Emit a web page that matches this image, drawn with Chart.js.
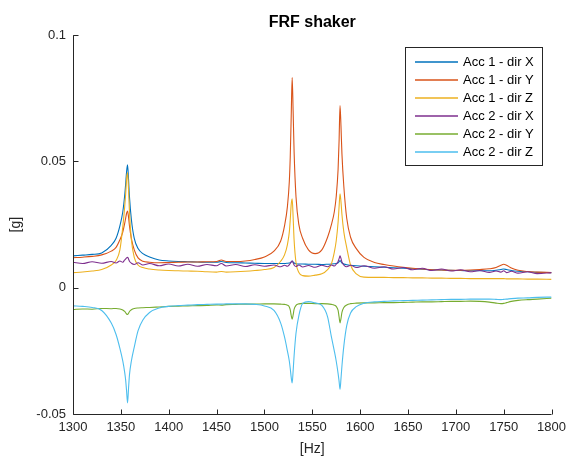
<!DOCTYPE html>
<html>
<head>
<meta charset="utf-8">
<title>FRF shaker</title>
<script src="https://cdn.jsdelivr.net/npm/chart.js@4.4.1/dist/chart.umd.min.js"></script>
<style>
  body { margin: 0; background: #fff; }
  #wrap { width: 572px; height: 462px; }
</style>
</head>
<body>
<div id="wrap"><canvas id="frfChart" width="572" height="462"></canvas></div>
<script>
// Frequency points [Hz] (denser around the resonances)
const freq = [
  1300, 1310, 1320, 1330, 1340,
  1345, 1349, 1352, 1354, 1355, 1356, 1357, 1358, 1359, 1361, 1364, 1368, 1373, 1380,
  1390, 1400, 1410, 1420, 1430, 1440, 1450, 1455, 1460, 1470, 1480, 1490, 1500, 1510,
  1517, 1521, 1524, 1526, 1527, 1528, 1529, 1530, 1531, 1533, 1536, 1540, 1546, 1553,
  1560, 1566, 1570, 1573, 1575, 1577, 1578, 1579, 1580, 1581, 1583, 1586, 1590, 1596, 1604,
  1615, 1625, 1635, 1645, 1655, 1665, 1675, 1685, 1695, 1705, 1715, 1725, 1735,
  1742, 1747, 1750, 1753, 1758, 1765, 1775, 1785, 1800
];

// Acc 1 - dir X [g]
const acc1X = [
  0.0126, 0.0129, 0.0132, 0.0138, 0.0168,
  0.0196, 0.0245, 0.0300, 0.0365, 0.0410, 0.0460, 0.0487, 0.0430, 0.0360, 0.0270, 0.0195, 0.0155, 0.0135, 0.0122,
  0.0110, 0.0106, 0.0104, 0.0103, 0.0102, 0.0101, 0.0101, 0.0104, 0.0100, 0.0099, 0.0098, 0.0097, 0.0096, 0.0096,
  0.0096, 0.0096, 0.0097, 0.0098, 0.0099, 0.0102, 0.0106, 0.0102, 0.0098, 0.0095, 0.0094, 0.0094, 0.0093, 0.0093,
  0.0092, 0.0093, 0.0094, 0.0095, 0.0096, 0.0099, 0.0103, 0.0108, 0.0103, 0.0098, 0.0094, 0.0091, 0.0089, 0.0087, 0.0085,
  0.0083, 0.0081, 0.0079, 0.0077, 0.0075, 0.0073, 0.0071, 0.0070, 0.0069, 0.0068, 0.0067, 0.0067, 0.0067,
  0.0069, 0.0072, 0.0074, 0.0072, 0.0068, 0.0065, 0.0063, 0.0061, 0.0060
];

// Acc 1 - dir Y [g]
const acc1Y = [
  0.0119, 0.0121, 0.0124, 0.0130, 0.0145,
  0.0160, 0.0190, 0.0220, 0.0255, 0.0275, 0.0295, 0.0304, 0.0280, 0.0245, 0.0195, 0.0150, 0.0118, 0.0105, 0.0101,
  0.0099, 0.0100, 0.0101, 0.0102, 0.0102, 0.0103, 0.0104, 0.0110, 0.0104, 0.0104, 0.0106, 0.0112, 0.0122, 0.0145,
  0.0185, 0.0245, 0.0320, 0.0420, 0.0520, 0.0680, 0.0832, 0.0700, 0.0540, 0.0360, 0.0250, 0.0195, 0.0150, 0.0135,
  0.0150, 0.0200, 0.0250, 0.0300, 0.0360, 0.0470, 0.0580, 0.0721, 0.0640, 0.0530, 0.0400, 0.0275, 0.0200, 0.0155, 0.0120,
  0.0100, 0.0092, 0.0086, 0.0081, 0.0077, 0.0074, 0.0071, 0.0070, 0.0069, 0.0069, 0.0070, 0.0072, 0.0075,
  0.0080, 0.0089, 0.0093, 0.0089, 0.0078, 0.0069, 0.0064, 0.0062, 0.0060
];

// Acc 1 - dir Z [g]
const acc1Z = [
  0.0060, 0.0062, 0.0066, 0.0072, 0.0090,
  0.0108, 0.0150, 0.0240, 0.0320, 0.0370, 0.0430, 0.0456, 0.0390, 0.0300, 0.0190, 0.0120, 0.0090, 0.0080, 0.0074,
  0.0070, 0.0068, 0.0067, 0.0066, 0.0065, 0.0063, 0.0062, 0.0064, 0.0062, 0.0063, 0.0065, 0.0068, 0.0072, 0.0080,
  0.0105, 0.0130, 0.0170, 0.0220, 0.0270, 0.0330, 0.0352, 0.0280, 0.0190, 0.0100, 0.0060, 0.0048, 0.0046, 0.0050,
  0.0055, 0.0072, 0.0095, 0.0140, 0.0185, 0.0260, 0.0320, 0.0372, 0.0340, 0.0290, 0.0220, 0.0159, 0.0090, 0.0055, 0.0042,
  0.0041, 0.0041, 0.0040, 0.0040, 0.0039, 0.0039, 0.0038, 0.0038, 0.0037, 0.0037, 0.0036, 0.0036, 0.0036,
  0.0036, 0.0036, 0.0036, 0.0035, 0.0035, 0.0035, 0.0034, 0.0034, 0.0033
];

// Acc 2 - dir X [g]
const acc2X = [
  0.0101, 0.0096, 0.0103, 0.0097, 0.0104,
  0.0098, 0.0106, 0.0101, 0.0110, 0.0114, 0.0118, 0.0121, 0.0114, 0.0105, 0.0097, 0.0092, 0.0099, 0.0090, 0.0096,
  0.0087, 0.0094, 0.0086, 0.0093, 0.0085, 0.0092, 0.0087, 0.0096, 0.0086, 0.0092, 0.0084, 0.0091, 0.0085, 0.0090,
  0.0083, 0.0089, 0.0085, 0.0091, 0.0096, 0.0102, 0.0106, 0.0099, 0.0090, 0.0084, 0.0090, 0.0082, 0.0088, 0.0081,
  0.0089, 0.0083, 0.0090, 0.0086, 0.0093, 0.0104, 0.0115, 0.0126, 0.0116, 0.0102, 0.0090, 0.0083, 0.0089, 0.0080, 0.0087,
  0.0077, 0.0083, 0.0074, 0.0080, 0.0071, 0.0077, 0.0068, 0.0074, 0.0066, 0.0071, 0.0063, 0.0068, 0.0061,
  0.0066, 0.0062, 0.0067, 0.0060, 0.0065, 0.0058, 0.0063, 0.0056, 0.0060
];

// Acc 2 - dir Y [g]
const acc2Y = [
  -0.0086, -0.0084, -0.0085, -0.0082, -0.0083,
  -0.0082, -0.0084, -0.0088, -0.0094, -0.0099, -0.0104, -0.0106, -0.0101, -0.0094, -0.0087, -0.0082, -0.0080, -0.0079, -0.0078,
  -0.0076, -0.0074, -0.0073, -0.0072, -0.0071, -0.0070, -0.0068, -0.0069, -0.0067, -0.0066, -0.0065, -0.0065, -0.0064, -0.0064,
  -0.0065, -0.0066, -0.0069, -0.0076, -0.0088, -0.0110, -0.0125, -0.0108, -0.0086, -0.0070, -0.0064, -0.0062, -0.0062, -0.0063,
  -0.0063, -0.0064, -0.0066, -0.0069, -0.0074, -0.0090, -0.0115, -0.0139, -0.0122, -0.0098, -0.0078, -0.0068, -0.0063, -0.0061, -0.0060,
  -0.0060, -0.0059, -0.0059, -0.0058, -0.0057, -0.0056, -0.0056, -0.0055, -0.0054, -0.0054, -0.0053, -0.0054, -0.0057,
  -0.0061, -0.0063, -0.0062, -0.0059, -0.0054, -0.0050, -0.0047, -0.0045, -0.0041
];

// Acc 2 - dir Z [g]
const acc2Z = [
  -0.0072, -0.0074, -0.0078, -0.0090, -0.0140,
  -0.0185, -0.0240, -0.0290, -0.0335, -0.0365, -0.0410, -0.0456, -0.0400, -0.0345, -0.0290, -0.0235, -0.0170, -0.0128, -0.0098,
  -0.0080, -0.0074, -0.0071, -0.0069, -0.0067, -0.0066, -0.0065, -0.0065, -0.0064, -0.0064, -0.0064, -0.0066, -0.0072, -0.0090,
  -0.0140, -0.0195, -0.0250, -0.0290, -0.0320, -0.0355, -0.0377, -0.0330, -0.0270, -0.0180, -0.0110, -0.0062, -0.0055, -0.0060,
  -0.0070, -0.0115, -0.0195, -0.0250, -0.0290, -0.0340, -0.0370, -0.0402, -0.0360, -0.0310, -0.0230, -0.0150, -0.0100, -0.0075, -0.0062,
  -0.0056, -0.0054, -0.0052, -0.0051, -0.0050, -0.0049, -0.0048, -0.0047, -0.0046, -0.0046, -0.0045, -0.0045, -0.0045,
  -0.0046, -0.0047, -0.0046, -0.0045, -0.0043, -0.0041, -0.0040, -0.0038, -0.0037
];

const seriesNames = ["Acc 1 - dir X", "Acc 1 - dir Y", "Acc 1 - dir Z", "Acc 2 - dir X", "Acc 2 - dir Y", "Acc 2 - dir Z"];
const seriesColors = ["#0072BD", "#D95319", "#EDB120", "#7E2F8E", "#77AC30", "#4DBEEE"];
const seriesValues = [acc1X, acc1Y, acc1Z, acc2X, acc2Y, acc2Z];

// Axis ticks
const xTicks = [1300, 1350, 1400, 1450, 1500, 1550, 1600, 1650, 1700, 1750, 1800];
const yTicks = [-0.05, 0, 0.05, 0.1];
const yTickLabels = ["-0.05", "0", "0.05", "0.1"];

const FONT = "'Liberation Sans', Arial, Helvetica, sans-serif";
const AXIS_COLOR = "#262626";

// MATLAB-like axes: left + bottom lines with inward ticks
const matlabAxes = {
  id: "matlabAxes",
  afterDatasetsDraw(chart) {
    const { ctx, chartArea: area, scales } = chart;
    ctx.save();
    ctx.strokeStyle = AXIS_COLOR;
    ctx.lineWidth = 1;
    ctx.beginPath();
    const l = Math.round(area.left) + 0.5;
    const b = Math.round(area.bottom) + 0.5;
    ctx.moveTo(l, area.top);
    ctx.lineTo(l, b);
    ctx.lineTo(area.right, b);
    scales.x.ticks.forEach((t) => {
      const px = Math.round(scales.x.getPixelForValue(t.value)) + 0.5;
      ctx.moveTo(px, b);
      ctx.lineTo(px, b - 5);
    });
    scales.y.ticks.forEach((t) => {
      const py = Math.round(scales.y.getPixelForValue(t.value)) + 0.5;
      ctx.moveTo(l, py);
      ctx.lineTo(l + 5, py);
    });
    ctx.stroke();
    ctx.restore();
  },
};

// Boxed legend in the upper right corner
const boxLegend = {
  id: "boxLegend",
  afterDraw(chart) {
    const { ctx } = chart;
    const left = 405, top = 47, width = 137, rowH = 18;
    const height = rowH * seriesNames.length + 10;
    ctx.save();
    ctx.fillStyle = "#fff";
    ctx.fillRect(left, top, width, height);
    ctx.strokeStyle = AXIS_COLOR;
    ctx.lineWidth = 1;
    ctx.strokeRect(left + 0.5, top + 0.5, width, height);
    ctx.font = "13px " + FONT;
    ctx.textBaseline = "middle";
    seriesNames.forEach((name, i) => {
      const y = Math.round(top + 15 + i * rowH);
      ctx.beginPath();
      ctx.strokeStyle = seriesColors[i];
      ctx.lineWidth = 1.5;
      ctx.moveTo(left + 10, y);
      ctx.lineTo(left + 53, y);
      ctx.stroke();
      ctx.fillStyle = "#000";
      ctx.fillText(name, left + 58, y + 0.5);
    });
    ctx.restore();
  },
};

const datasets = seriesNames.map((name, i) => ({
  label: name,
  data: freq.map((f, k) => ({ x: f, y: seriesValues[i][k] })),
  borderColor: seriesColors[i],
  borderWidth: 1.1,
  pointRadius: 0,
  fill: false,
  cubicInterpolationMode: "monotone",
  order: seriesNames.length - i,
}));

new Chart(document.getElementById("frfChart"), {
  type: "line",
  data: { datasets: datasets },
  options: {
    responsive: false,
    animation: false,
    layout: { padding: { left: 0, right: 16, top: 0, bottom: 0 } },
    plugins: {
      legend: { display: false },
      tooltip: { enabled: false },
      title: {
        display: true,
        fullSize: false,
        text: "FRF shaker",
        color: "#000",
        font: { family: FONT, size: 16, weight: "bold" },
        padding: { top: 13, bottom: 3 },
      },
    },
    scales: {
      x: {
        type: "linear",
        min: 1300,
        max: 1800,
        afterFit: (scale) => { scale.height = 48; },
        afterBuildTicks: (scale) => { scale.ticks = xTicks.map((v) => ({ value: v })); },
        grid: { display: false, drawTicks: false },
        border: { display: false },
        ticks: {
          color: AXIS_COLOR,
          padding: 6,
          maxRotation: 0,
          font: { family: FONT, size: 13 },
          callback: (v) => String(v),
        },
        title: {
          display: true,
          text: "[Hz]",
          color: AXIS_COLOR,
          padding: 4,
          font: { family: FONT, size: 14 },
        },
      },
      y: {
        type: "linear",
        min: -0.05,
        max: 0.1,
        afterFit: (scale) => { scale.width = 73; },
        afterBuildTicks: (scale) => { scale.ticks = yTicks.map((v) => ({ value: v })); },
        grid: { display: false, drawTicks: false },
        border: { display: false },
        ticks: {
          color: AXIS_COLOR,
          padding: 7,
          font: { family: FONT, size: 13 },
          callback: (v) => {
            const idx = yTicks.findIndex((t) => Math.abs(t - v) < 1e-9);
            return idx >= 0 ? yTickLabels[idx] : "";
          },
        },
        title: {
          display: true,
          text: "[g]",
          color: AXIS_COLOR,
          padding: 8,
          font: { family: FONT, size: 14 },
        },
      },
    },
  },
  plugins: [matlabAxes, boxLegend],
});
</script>
</body>
</html>
